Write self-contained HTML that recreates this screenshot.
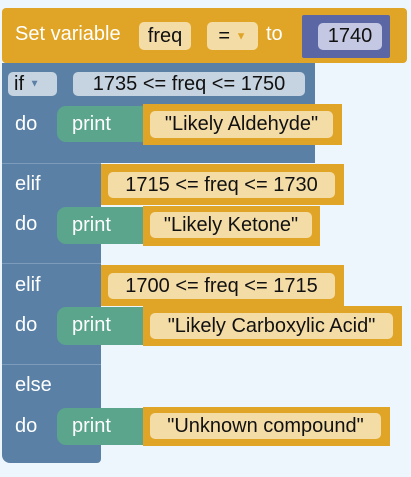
<!DOCTYPE html>
<html><head><style>
body{margin:0;width:411px;height:477px;background:#eef6fd;position:relative;overflow:hidden;font-family:"Liberation Sans",sans-serif;font-size:20px}
div{position:absolute;box-sizing:border-box;white-space:nowrap}
.t{color:#fff;line-height:1}
.f{border-radius:5px;color:#111;line-height:26px;text-align:center;height:26px}
.y{background:#e0a526}
.g{background:#5ba58c;border-radius:9px 0 0 9px}
.b{background:#5b80a5}
.sl{background:#f4dca7}
.sep{height:1px;background:#7d9cbb}
</style></head><body>
<!-- set variable -->
<div class="y" style="left:2px;top:8px;width:405px;height:55px;border-radius:4px"></div>
<div class="t" style="left:15px;top:24px">Set variable</div>
<div class="f sl" style="left:139px;top:22px;width:52px;height:28px;line-height:28px">freq</div>
<div class="f sl" style="left:207px;top:22px;width:51px;height:28px;line-height:28px">= <span style="color:#e0a526;font-size:11px;vertical-align:middle">▼</span></div>
<div class="t" style="left:266px;top:24px">to</div>
<div style="left:302px;top:15px;width:88px;height:43px;background:#5b67a5;border-radius:2px"></div>
<div class="f" style="left:318px;top:23px;width:64px;height:27px;background:#c5c8e3">1740</div>
<!-- blue if block -->
<div class="b" style="left:2px;top:63px;width:313px;height:100px"></div>
<div class="b" style="left:2px;top:163px;width:99px;height:300px;border-radius:0 0 4px 8px"></div>
<div class="sep" style="left:2px;top:163px;width:99px"></div>
<div class="sep" style="left:2px;top:263px;width:99px"></div>
<div class="sep" style="left:2px;top:364px;width:99px"></div>
<div class="f" style="left:8px;top:72px;width:49px;height:24px;line-height:24px;background:#c6d3e1;text-align:left;padding-left:6px">if <span style="color:#5b80a5;font-size:10px;vertical-align:middle">▼</span></div>
<div class="f" style="left:73px;top:72px;width:232px;height:24px;line-height:24px;background:#c6d3e1">1735 &lt;= freq &lt;= 1750</div>
<div class="t" style="left:15px;top:114px">do</div>
<div class="g" style="left:57px;top:106px;width:88px;height:36px"></div>
<div class="t" style="left:72px;top:114px">print</div>
<div class="y" style="left:143px;top:104px;width:199px;height:41px"></div>
<div class="f sl" style="left:150px;top:111px;width:183px;height:27px">"Likely Aldehyde"</div>
<!-- elif 1 -->
<div class="t" style="left:15px;top:174px">elif</div>
<div class="y" style="left:101px;top:164px;width:243px;height:41px"></div>
<div class="f sl" style="left:108px;top:172px;width:227px">1715 &lt;= freq &lt;= 1730</div>
<div class="t" style="left:15px;top:214px">do</div>
<div class="g" style="left:57px;top:207px;width:88px;height:37px"></div>
<div class="t" style="left:72px;top:215px">print</div>
<div class="y" style="left:143px;top:206px;width:177px;height:40px"></div>
<div class="f sl" style="left:150px;top:212px;width:162px">"Likely Ketone"</div>
<!-- elif 2 -->
<div class="t" style="left:15px;top:275px">elif</div>
<div class="y" style="left:101px;top:265px;width:243px;height:41px"></div>
<div class="f sl" style="left:108px;top:273px;width:227px">1700 &lt;= freq &lt;= 1715</div>
<div class="t" style="left:15px;top:315px">do</div>
<div class="g" style="left:57px;top:307px;width:88px;height:38px"></div>
<div class="t" style="left:72px;top:315px">print</div>
<div class="y" style="left:143px;top:306px;width:259px;height:40px"></div>
<div class="f sl" style="left:150px;top:313px;width:243px">"Likely Carboxylic Acid"</div>
<!-- else -->
<div class="t" style="left:15px;top:375px">else</div>
<div class="t" style="left:15px;top:416px">do</div>
<div class="g" style="left:57px;top:408px;width:88px;height:37px"></div>
<div class="t" style="left:72px;top:416px">print</div>
<div class="y" style="left:143px;top:407px;width:247px;height:39px"></div>
<div class="f sl" style="left:150px;top:413px;width:231px">"Unknown compound"</div>
</body></html>
